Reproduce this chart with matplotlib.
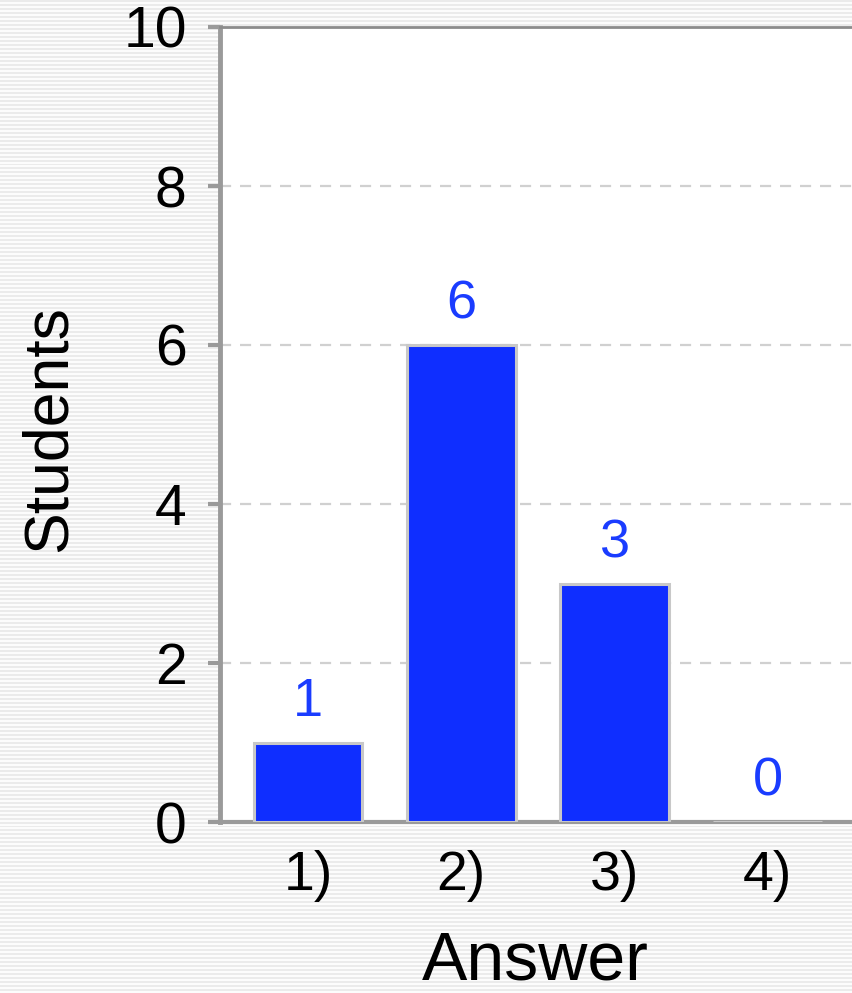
import matplotlib
matplotlib.use("Agg")
import matplotlib.pyplot as plt
import numpy as np

answers = ["1)", "2)", "3)", "4)"]
students = [1, 6, 3, 0]

plt.rcParams["font.family"] = ["Liberation Sans", "DejaVu Sans"]

BAR_BLUE = "#0f2eff"
LABEL_BLUE = "#1a3cff"
AXIS_GRAY = "#9a9a9a"

fig = plt.figure(figsize=(8.52, 9.93), dpi=100)
fig.patch.set_facecolor("#efefef")

# pinstripe background
bg = fig.add_axes([0, 0, 1, 1], zorder=-10)
stripes = np.tile([[0.0], [1.0]], (993 // 4 + 1, 1))
bg.imshow(stripes, cmap="gray", vmin=-14, vmax=1.2, aspect="auto",
          interpolation="nearest", extent=[0, 1, 0, 1], alpha=1)
bg.set_axis_off()

ax = fig.add_axes([220 / 852, 171 / 993, 650 / 852, 795 / 993])
ax.set_facecolor("white")
x = np.arange(len(answers))
ax.bar(x, students, width=0.71, color=BAR_BLUE, edgecolor="#c8c8c8",
       linewidth=2.2, zorder=3)

for xi, v in zip(x, students):
    ax.annotate(str(v), (xi, v), xytext=(0, 11), textcoords="offset points",
                ha="center", va="bottom", fontsize=39, color=LABEL_BLUE)

ax.set_ylim(0, 10)
ax.set_xlim(-0.574, 3.666)
ax.set_yticks([0, 2, 4, 6, 8, 10])
ax.set_xticks(x)
ax.set_xticklabels(answers)
ax.tick_params(axis="y", labelsize=41, length=9, width=3, color=AXIS_GRAY, pad=15)
ax.tick_params(axis="x", labelsize=40, length=0, pad=20)

ax.grid(axis="y", linestyle=(0, (5, 4)), color="#d0d0d0", linewidth=1.6, zorder=0)
ax.set_axisbelow(True)

ax.spines["left"].set_color(AXIS_GRAY)
ax.spines["left"].set_linewidth(3.5)
ax.spines["bottom"].set_color(AXIS_GRAY)
ax.spines["bottom"].set_linewidth(3)
ax.spines["top"].set_color("#8c8c8c")
ax.spines["top"].set_linewidth(2)
ax.spines["right"].set_visible(False)

ax.set_ylabel("Students", fontsize=45)
ax.yaxis.set_label_coords(-0.217, 0.495)
ax.set_xlabel("Answer", fontsize=49)
ax.xaxis.set_label_coords(0.485, -0.135)

fig.savefig("out.png", dpi=100)
